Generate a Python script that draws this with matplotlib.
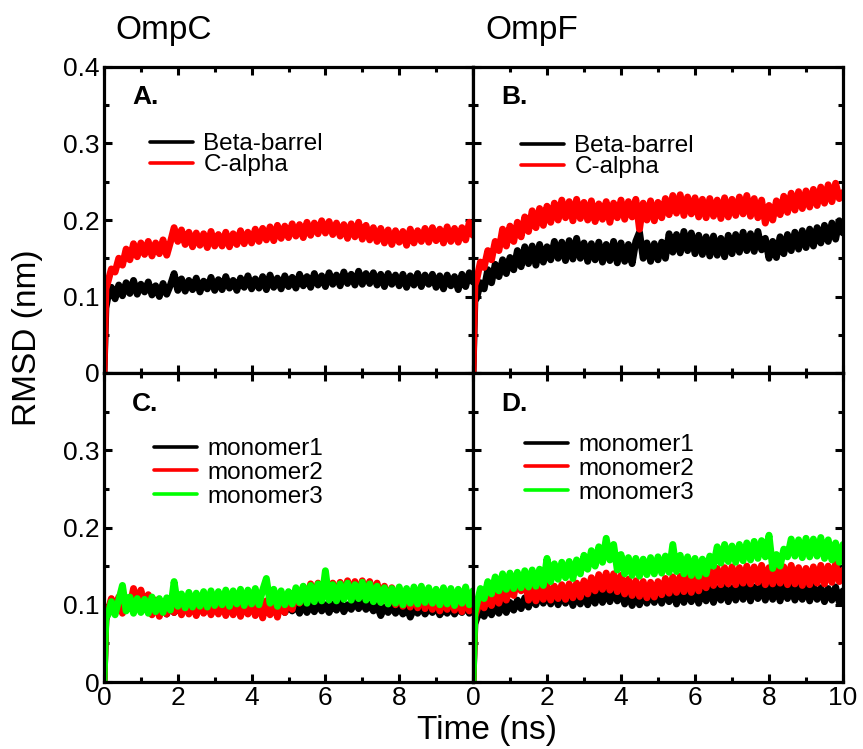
import numpy as np
import matplotlib
matplotlib.use("Agg")
import matplotlib.pyplot as plt
from matplotlib.ticker import MultipleLocator, FuncFormatter

plt.rcParams['font.family'] = ['Liberation Sans', 'DejaVu Sans']

# time axis (ns): t=0, 0.05, then 0.1 ... 10.0
time = [0.0, 0.05] + [round(0.1 * i, 1) for i in range(1, 101)]

# Panel A: OmpC
ompc_beta = [0.0, 0.085,
    0.098, 0.112, 0.097, 0.115, 0.101, 0.118, 0.104, 0.121, 0.103, 0.116,
    0.106, 0.119, 0.102, 0.114, 0.100, 0.117, 0.103, 0.115, 0.130, 0.108,
    0.123, 0.107, 0.121, 0.109, 0.124, 0.106, 0.120, 0.110, 0.125, 0.108,
    0.122, 0.109, 0.126, 0.111, 0.121, 0.108, 0.124, 0.112, 0.127, 0.110,
    0.123, 0.111, 0.126, 0.109, 0.128, 0.112, 0.124, 0.110, 0.127, 0.113,
    0.125, 0.111, 0.129, 0.114, 0.126, 0.112, 0.130, 0.115, 0.127, 0.113,
    0.131, 0.116, 0.128, 0.114, 0.132, 0.117, 0.129, 0.115, 0.133, 0.116,
    0.130, 0.117, 0.131, 0.115, 0.129, 0.113, 0.130, 0.116, 0.128, 0.114,
    0.129, 0.112, 0.127, 0.115, 0.130, 0.113, 0.128, 0.116, 0.129, 0.112,
    0.127, 0.110, 0.128, 0.114, 0.126, 0.109, 0.129, 0.113, 0.131, 0.119]
ompc_calpha = [0.0, 0.110,
    0.118, 0.136, 0.132, 0.150, 0.141, 0.162, 0.148, 0.169, 0.152, 0.170,
    0.155, 0.172, 0.153, 0.170, 0.156, 0.174, 0.154, 0.171, 0.190, 0.172,
    0.187, 0.168, 0.184, 0.165, 0.183, 0.167, 0.182, 0.164, 0.185, 0.166,
    0.181, 0.166, 0.184, 0.165, 0.182, 0.168, 0.186, 0.169, 0.184, 0.170,
    0.188, 0.172, 0.189, 0.174, 0.191, 0.173, 0.193, 0.176, 0.192, 0.177,
    0.195, 0.179, 0.194, 0.177, 0.197, 0.180, 0.196, 0.182, 0.199, 0.183,
    0.198, 0.181, 0.196, 0.179, 0.194, 0.176, 0.195, 0.178, 0.197, 0.175,
    0.193, 0.174, 0.190, 0.172, 0.189, 0.170, 0.187, 0.168, 0.186, 0.171,
    0.185, 0.167, 0.188, 0.170, 0.186, 0.172, 0.189, 0.171, 0.190, 0.173,
    0.188, 0.170, 0.191, 0.172, 0.189, 0.171, 0.190, 0.174, 0.197, 0.180]

# Panel B: OmpF
ompf_beta = [0.0, 0.095,
    0.098, 0.118, 0.110, 0.135, 0.118, 0.142, 0.126, 0.148, 0.130, 0.151,
    0.135, 0.160, 0.139, 0.165, 0.143, 0.166, 0.141, 0.168, 0.145, 0.165,
    0.148, 0.172, 0.150, 0.171, 0.147, 0.173, 0.149, 0.176, 0.150, 0.170,
    0.146, 0.169, 0.148, 0.171, 0.145, 0.168, 0.147, 0.172, 0.144, 0.170,
    0.146, 0.168, 0.143, 0.172, 0.184, 0.150, 0.170, 0.146, 0.169, 0.148,
    0.171, 0.150, 0.182, 0.158, 0.181, 0.157, 0.185, 0.160, 0.183, 0.156,
    0.180, 0.155, 0.178, 0.153, 0.179, 0.154, 0.176, 0.152, 0.180, 0.156,
    0.181, 0.158, 0.184, 0.160, 0.182, 0.159, 0.185, 0.161, 0.176, 0.150,
    0.172, 0.151, 0.178, 0.156, 0.181, 0.160, 0.184, 0.162, 0.186, 0.164,
    0.188, 0.166, 0.190, 0.170, 0.193, 0.172, 0.196, 0.175, 0.199, 0.183]
ompf_calpha = [0.0, 0.115,
    0.122, 0.145, 0.138, 0.160, 0.148, 0.172, 0.160, 0.188, 0.166, 0.192,
    0.172, 0.197, 0.178, 0.204, 0.185, 0.212, 0.190, 0.215, 0.193, 0.218,
    0.197, 0.222, 0.200, 0.226, 0.203, 0.224, 0.199, 0.227, 0.202, 0.223,
    0.200, 0.225, 0.198, 0.221, 0.201, 0.224, 0.197, 0.222, 0.203, 0.226,
    0.201, 0.224, 0.204, 0.227, 0.188, 0.222, 0.200, 0.225, 0.199, 0.223,
    0.203, 0.228, 0.207, 0.232, 0.209, 0.233, 0.206, 0.230, 0.208, 0.229,
    0.204, 0.227, 0.203, 0.228, 0.205, 0.226, 0.202, 0.229, 0.204, 0.227,
    0.206, 0.230, 0.208, 0.232, 0.205, 0.228, 0.203, 0.226, 0.196, 0.219,
    0.200, 0.225, 0.207, 0.231, 0.210, 0.235, 0.213, 0.237, 0.215, 0.238,
    0.217, 0.240, 0.219, 0.243, 0.222, 0.246, 0.224, 0.248, 0.228, 0.236]

# Panel C: OmpC monomers
ompc_m1 = [0.0, 0.080,
    0.092, 0.104, 0.094, 0.107, 0.096, 0.109, 0.097, 0.106, 0.095, 0.108,
    0.094, 0.103, 0.089, 0.100, 0.091, 0.098, 0.088, 0.099, 0.090, 0.097,
    0.089, 0.098, 0.090, 0.099, 0.088, 0.097, 0.090, 0.099, 0.089, 0.096,
    0.090, 0.098, 0.089, 0.097, 0.091, 0.099, 0.090, 0.098, 0.089, 0.097,
    0.091, 0.099, 0.090, 0.098, 0.092, 0.100, 0.091, 0.097, 0.090, 0.099,
    0.092, 0.100, 0.089, 0.101, 0.090, 0.099, 0.091, 0.102, 0.092, 0.100,
    0.090, 0.101, 0.093, 0.103, 0.091, 0.100, 0.094, 0.104, 0.095, 0.103,
    0.094, 0.101, 0.092, 0.099, 0.086, 0.097, 0.090, 0.098, 0.089, 0.096,
    0.088, 0.097, 0.084, 0.096, 0.089, 0.098, 0.088, 0.096, 0.090, 0.098,
    0.087, 0.095, 0.089, 0.097, 0.088, 0.096, 0.090, 0.098, 0.089, 0.094]
ompc_m2 = [0.0, 0.085,
    0.090, 0.108, 0.092, 0.110, 0.089, 0.107, 0.096, 0.121, 0.098, 0.119,
    0.095, 0.113, 0.087, 0.106, 0.085, 0.104, 0.088, 0.106, 0.090, 0.108,
    0.087, 0.106, 0.088, 0.105, 0.086, 0.107, 0.089, 0.106, 0.087, 0.104,
    0.088, 0.105, 0.086, 0.104, 0.087, 0.106, 0.085, 0.103, 0.088, 0.107,
    0.086, 0.104, 0.083, 0.105, 0.087, 0.106, 0.084, 0.108, 0.090, 0.111,
    0.094, 0.115, 0.102, 0.123, 0.106, 0.127, 0.108, 0.128, 0.110, 0.129,
    0.109, 0.128, 0.107, 0.129, 0.110, 0.131, 0.112, 0.130, 0.109, 0.131,
    0.111, 0.130, 0.108, 0.128, 0.104, 0.124, 0.102, 0.122, 0.100, 0.121,
    0.098, 0.119, 0.097, 0.118, 0.096, 0.120, 0.095, 0.117, 0.094, 0.116,
    0.092, 0.113, 0.094, 0.115, 0.093, 0.112, 0.091, 0.114, 0.092, 0.110]
ompc_m3 = [0.0, 0.085,
    0.086, 0.104, 0.087, 0.106, 0.125, 0.092, 0.110, 0.089, 0.108, 0.090,
    0.107, 0.089, 0.110, 0.091, 0.108, 0.090, 0.109, 0.093, 0.130, 0.098,
    0.114, 0.096, 0.116, 0.097, 0.115, 0.098, 0.117, 0.097, 0.118, 0.099,
    0.117, 0.100, 0.119, 0.098, 0.118, 0.101, 0.120, 0.099, 0.119, 0.101,
    0.121, 0.100, 0.119, 0.134, 0.102, 0.120, 0.098, 0.118, 0.100, 0.117,
    0.101, 0.122, 0.103, 0.124, 0.102, 0.125, 0.104, 0.127, 0.105, 0.144,
    0.106, 0.126, 0.105, 0.127, 0.107, 0.128, 0.106, 0.126, 0.108, 0.129,
    0.106, 0.127, 0.104, 0.124, 0.103, 0.122, 0.101, 0.121, 0.102, 0.123,
    0.100, 0.121, 0.102, 0.123, 0.101, 0.124, 0.103, 0.122, 0.102, 0.120,
    0.100, 0.122, 0.101, 0.121, 0.099, 0.120, 0.102, 0.123, 0.100, 0.118]

# Panel D: OmpF monomers
ompf_m1 = [0.0, 0.075,
    0.082, 0.094, 0.085, 0.097, 0.087, 0.099, 0.089, 0.101, 0.090, 0.103,
    0.093, 0.106, 0.095, 0.109, 0.097, 0.112, 0.100, 0.116, 0.102, 0.114,
    0.101, 0.115, 0.100, 0.114, 0.102, 0.116, 0.099, 0.115, 0.101, 0.113,
    0.100, 0.115, 0.102, 0.117, 0.103, 0.119, 0.104, 0.120, 0.105, 0.118,
    0.101, 0.114, 0.099, 0.113, 0.100, 0.116, 0.102, 0.117, 0.103, 0.118,
    0.102, 0.119, 0.104, 0.120, 0.101, 0.118, 0.103, 0.121, 0.104, 0.119,
    0.102, 0.120, 0.105, 0.122, 0.103, 0.121, 0.106, 0.123, 0.104, 0.122,
    0.106, 0.124, 0.107, 0.125, 0.105, 0.123, 0.108, 0.126, 0.106, 0.124,
    0.107, 0.125, 0.105, 0.124, 0.108, 0.126, 0.106, 0.123, 0.107, 0.125,
    0.105, 0.124, 0.107, 0.122, 0.104, 0.121, 0.106, 0.123, 0.103, 0.118]
ompf_m2 = [0.0, 0.085,
    0.092, 0.108, 0.096, 0.112, 0.099, 0.116, 0.102, 0.122, 0.106, 0.124,
    0.112, 0.136, 0.118, 0.134, 0.106, 0.123, 0.105, 0.124, 0.107, 0.125,
    0.106, 0.124, 0.108, 0.126, 0.107, 0.127, 0.109, 0.128, 0.110, 0.131,
    0.114, 0.135, 0.118, 0.139, 0.120, 0.141, 0.119, 0.140, 0.117, 0.138,
    0.114, 0.133, 0.112, 0.131, 0.111, 0.130, 0.109, 0.129, 0.110, 0.130,
    0.113, 0.134, 0.115, 0.136, 0.116, 0.137, 0.117, 0.138, 0.116, 0.139,
    0.118, 0.141, 0.122, 0.145, 0.125, 0.147, 0.126, 0.148, 0.127, 0.149,
    0.126, 0.148, 0.128, 0.150, 0.127, 0.149, 0.129, 0.151, 0.126, 0.148,
    0.127, 0.150, 0.128, 0.149, 0.126, 0.151, 0.127, 0.148, 0.125, 0.147,
    0.126, 0.149, 0.128, 0.151, 0.127, 0.150, 0.129, 0.153, 0.130, 0.145]
ompf_m3 = [0.0, 0.090,
    0.100, 0.121, 0.108, 0.130, 0.114, 0.136, 0.118, 0.140, 0.120, 0.141,
    0.121, 0.142, 0.122, 0.144, 0.123, 0.145, 0.124, 0.146, 0.125, 0.160,
    0.130, 0.153, 0.133, 0.155, 0.135, 0.156, 0.134, 0.158, 0.140, 0.164,
    0.146, 0.170, 0.150, 0.175, 0.155, 0.186, 0.158, 0.178, 0.145, 0.165,
    0.140, 0.161, 0.138, 0.160, 0.137, 0.159, 0.139, 0.161, 0.140, 0.162,
    0.141, 0.163, 0.142, 0.178, 0.143, 0.164, 0.140, 0.162, 0.138, 0.160,
    0.137, 0.159, 0.140, 0.163, 0.150, 0.175, 0.154, 0.178, 0.156, 0.176,
    0.155, 0.178, 0.157, 0.180, 0.158, 0.182, 0.160, 0.183, 0.162, 0.190,
    0.147, 0.165, 0.150, 0.172, 0.162, 0.185, 0.163, 0.184, 0.161, 0.186,
    0.162, 0.185, 0.163, 0.187, 0.160, 0.184, 0.158, 0.180, 0.155, 0.178]

panel_titles = ["OmpC", "OmpF"]
panel_letters = ["A.", "B.", "C.", "D."]
top_labels = ["Beta-barrel", "C-alpha"]
bottom_labels = ["monomer1", "monomer2", "monomer3"]
x_label = "Time (ns)"
y_label = "RMSD (nm)"

BLACK, RED, GREEN = "#000000", "#FF0000", "#00FF00"
LW = 5.0
LEG_LW = 2.6
TICK_FS = 19
LEG_FS = 17.5
BIG_FS = 24

W, H = 863, 749
fig = plt.figure(figsize=(W / 100, H / 100), dpi=100)

xl, xm, xr = 104, 473, 843
yt, ym, yb = 67, 373, 682


def make_ax(x0, x1, y0, y1):
    return fig.add_axes([x0 / W, 1 - y1 / H, (x1 - x0) / W, (y1 - y0) / H])


axA = make_ax(xl, xm, yt, ym)
axB = make_ax(xm, xr, yt, ym)
axC = make_ax(xl, xm, ym, yb)
axD = make_ax(xm, xr, ym, yb)

fmt_y = FuncFormatter(lambda v, p: "0" if abs(v) < 1e-9 else f"{v:.1f}")
fmt_x = FuncFormatter(lambda v, p: f"{v:.0f}")

for ax in (axA, axB, axC, axD):
    ax.set_xlim(0, 10)
    ax.set_ylim(0, 0.4)
    ax.xaxis.set_major_locator(MultipleLocator(2))
    ax.xaxis.set_minor_locator(MultipleLocator(1))
    ax.yaxis.set_major_locator(MultipleLocator(0.1))
    ax.yaxis.set_minor_locator(MultipleLocator(0.05))
    ax.tick_params(which="both", direction="in", top=True, right=True,
                   width=2.2, labelsize=TICK_FS, pad=3)
    ax.tick_params(which="major", length=5.5)
    ax.tick_params(which="minor", length=3.5)
    for s in ax.spines.values():
        s.set_linewidth(2.3)
        s.set_zorder(5)
    ax.yaxis.set_major_formatter(fmt_y)
    ax.xaxis.set_major_formatter(fmt_x)

# tick label visibility
axA.tick_params(labelbottom=False)
axB.tick_params(labelbottom=False, labelleft=False)
axD.tick_params(labelleft=False)
axC.set_yticks([0, 0.1, 0.2, 0.3])
axC.yaxis.set_minor_locator(MultipleLocator(0.05))
axC.set_xticks([0, 2, 4, 6, 8])

line_kw = dict(lw=LW, solid_joinstyle="round", solid_capstyle="round")

# Panel A
axA.plot(time, ompc_beta, color=BLACK, label=top_labels[0], **line_kw)
axA.plot(time, ompc_calpha, color=RED, label=top_labels[1], **line_kw)
# Panel B
axB.plot(time, ompf_beta, color=BLACK, label=top_labels[0], **line_kw)
axB.plot(time, ompf_calpha, color=RED, label=top_labels[1], **line_kw)
# Panel C
axC.plot(time, ompc_m1, color=BLACK, label=bottom_labels[0], **line_kw)
axC.plot(time, ompc_m2, color=RED, label=bottom_labels[1], **line_kw)
axC.plot(time, ompc_m3, color=GREEN, label=bottom_labels[2], **line_kw)
# Panel D
axD.plot(time, ompf_m1, color=BLACK, label=bottom_labels[0], **line_kw)
axD.plot(time, ompf_m2, color=RED, label=bottom_labels[1], **line_kw)
axD.plot(time, ompf_m3, color=GREEN, label=bottom_labels[2], **line_kw)

# panel letters
for ax, letter in zip((axA, axB, axC, axD), panel_letters):
    ax.text(0.076, 0.878, letter, transform=ax.transAxes, fontsize=19,
            fontweight="bold", ha="left", va="baseline")

# legends
leg_kw = dict(loc="upper left", frameon=False, fontsize=LEG_FS, borderpad=0,
              borderaxespad=0, handlelength=1.75, handletextpad=0.45)


def add_legend(ax, x_px, y_px, x0, w, y0, h, spacing):
    leg = ax.legend(bbox_to_anchor=((x_px - x0) / w, (y0 - y_px) / h),
                    labelspacing=spacing, **leg_kw)
    for ln in leg.get_lines():
        ln.set_linewidth(LEG_LW)
    return leg


add_legend(axA, 150, 133, xl, 369, ym, 306, -0.04)
add_legend(axB, 521, 135, xm, 370, ym, 306, -0.04)
add_legend(axC, 154, 438, xl, 369, yb, 309, 0.08)
add_legend(axD, 525, 434, xm, 370, yb, 309, 0.08)

# titles and axis labels
fig.text(164 / W, 1 - 30 / H, panel_titles[0], fontsize=BIG_FS, ha="center", va="center")
fig.text(532 / W, 1 - 30 / H, panel_titles[1], fontsize=BIG_FS, ha="center", va="center")
fig.text(487 / W, 1 - 730 / H, x_label, fontsize=BIG_FS, ha="center", va="center")
fig.text(28 / W, 1 - 338 / H, y_label, fontsize=BIG_FS, ha="center", va="center",
         rotation=90)

fig.savefig("out.png", dpi=100)
